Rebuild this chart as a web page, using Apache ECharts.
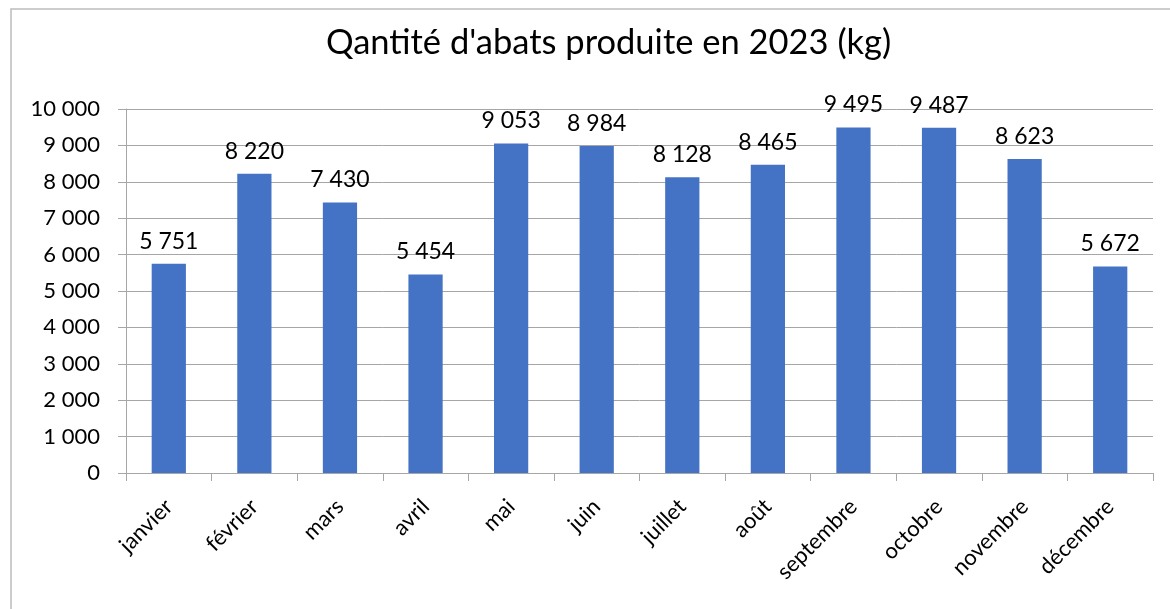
<!DOCTYPE html>
<html>
<head>
<meta charset="utf-8">
<script src="https://cdn.jsdelivr.net/npm/echarts@6/dist/echarts.min.js"></script>
<style>
  html, body { margin: 0; padding: 0; background: #fff; }
  #chart { width: 1170px; height: 609px; }
</style>
</head>
<body>
<div id="chart"></div>
<script>
// données
var mois = ['janvier', 'février', 'mars', 'avril', 'mai', 'juin', 'juillet', 'août', 'septembre', 'octobre', 'novembre', 'décembre'];
var quantites = [5751, 8220, 7430, 5454, 9053, 8984, 8128, 8465, 9495, 9487, 8623, 5672];
var titre = "Qantité d'abats produite en 2023 (kg)";

function espaceMilliers(v) {
    return String(v).replace(/\B(?=(\d{3})+(?!\d))/g, ' ');
}

var font = 'Lato, "Open Sans", sans-serif';
var chart = echarts.init(document.getElementById('chart'));
chart.setOption({
    animation: false,
    graphic: [{
        type: 'rect',
        shape: { x: 11, y: 9, width: 1300, height: 800 },
        style: { fill: 'none', stroke: '#bcbcbc', lineWidth: 1.5 },
        silent: true
    }],
    title: {
        text: titre,
        left: 321,
        top: 20,
        textStyle: { fontFamily: font, fontSize: 34.5, fontWeight: 'normal', color: '#000' }
    },
    grid: { left: 126, right: 17, top: 109, bottom: 136 },
    xAxis: {
        type: 'category',
        data: mois,
        axisLine: { lineStyle: { color: '#a6a6a6', width: 1 } },
        axisTick: { show: true, length: 8, lineStyle: { color: '#a6a6a6' } },
        axisLabel: {
            rotate: 45,
            interval: 0,
            margin: 30,
            fontFamily: font,
            fontSize: 22,
            color: '#000'
        }
    },
    yAxis: {
        type: 'value',
        min: 0,
        max: 10000,
        interval: 1000,
        axisLine: { show: true, lineStyle: { color: '#a6a6a6' } },
        axisTick: { show: true, length: 8, lineStyle: { color: '#a6a6a6' } },
        splitLine: { lineStyle: { color: '#a6a6a6' } },
        axisLabel: {
            margin: 26,
            fontFamily: font,
            fontSize: 22,
            color: '#000',
            formatter: espaceMilliers
        }
    },
    series: [{
        type: 'bar',
        data: quantites,
        barWidth: '40%',
        itemStyle: { color: '#4472C4' },
        label: {
            show: true,
            position: 'top',
            distance: 11,
            fontFamily: font,
            fontSize: 23,
            color: '#000',
            formatter: function (p) { return espaceMilliers(p.value); }
        }
    }]
});
</script>
</body>
</html>
